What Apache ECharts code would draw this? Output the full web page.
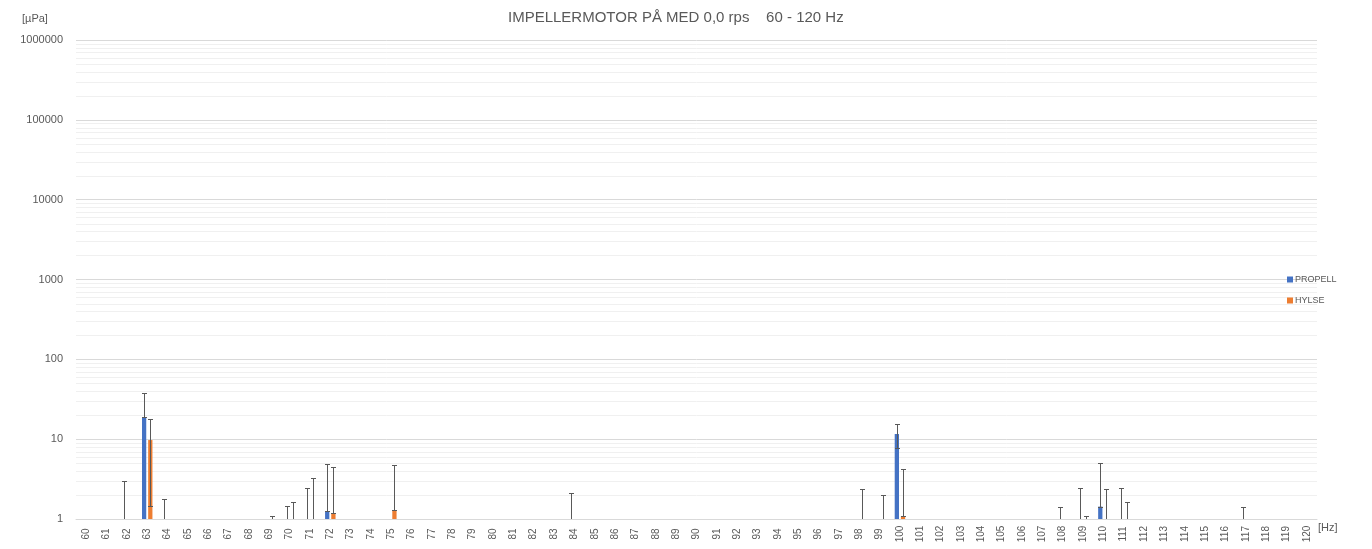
<!DOCTYPE html>
<html>
<head>
<meta charset="utf-8">
<script src="https://cdn.jsdelivr.net/npm/echarts@6/dist/echarts.min.js"></script>
<style>
html,body{margin:0;padding:0;background:#fff;}
#chart{width:1372px;height:549px;}
</style>
</head>
<body>
<div id="chart"></div>
<script>
// Categories (Hz)
var categories = ['60','61','62','63','64','65','66','67','68','69','70','71','72','73','74','75','76','77','78','79','80','81','82','83','84','85','86','87','88','89','90','91','92','93','94','95','96','97','98','99','100','101','102','103','104','105','106','107','108','109','110','111','112','113','114','115','116','117','118','119','120'];

// PROPELL (blue) bar values [µPa], 0 = below axis minimum
var propellValues = [0,0,0,18.7,0,0,0,0,0,0, 0,0,1.26,0,0,0,0,0,0,0, 0,0,0,0,0,0,0,0,0,0, 0,0,0,0,0,0,0,0,0,0, 11.6,0,0,0,0,0,0,0,0,0, 1.43,0,0,0,0,0,0,0,0,0, 0];
var propellErrPlus = [0,0,3.0,19.3,1.8,0,0,0,0,0, 1.44,2.42,3.57,0,0,0,0,0,0,0, 0,0,0,0,2.1,0,0,0,0,0, 0,0,0,0,0,0,0,0,0,0, 3.8,0,0,0,0,0,0,0,1.43,2.42, 3.67,2.42,0,0,0,0,0,1.43,0,0, 0];
var propellErrMinus = [0,0,0,0,0,0,0,0,0,0, 0,0,0,0,0,0,0,0,0,0, 0,0,0,0,0,0,0,0,0,0, 0,0,0,0,0,0,0,0,0,0, 3.8,0,0,0,0,0,0,0,0,0, 0,0,0,0,0,0,0,0,0,0, 0];

// HYLSE (orange) bar values [µPa]
var hylseValues = [0,0,0,9.75,0,0,0,0,0,0, 0,0,1.19,0,0,1.28,0,0,0,0, 0,0,0,0,0,0,0,0,0,0, 0,0,0,0,0,0,0,0,0,0, 1.08,0,0,0,0,0,0,0,0,0, 0,0,0,0,0,0,0,0,0,0, 0];
var hylseErrPlus = [0,0,0,8.3,0,0,0,0,0,1.1, 1.62,3.28,3.24,0,0,3.41,0,0,0,0, 0,0,0,0,0,0,0,0,0,0, 0,0,0,0,0,0,0,0,2.35,2.01, 3.1,0,0,0,0,0,0,0,0,1.09, 2.35,1.62,0,0,0,0,0,0,0,0, 0];
var hylseErrMinus = [0,0,0,8.3,0,0,0,0,0,0, 0,0,0,0,0,0,0,0,0,0, 0,0,0,0,0,0,0,0,0,0, 0,0,0,0,0,0,0,0,0,0, 0,0,0,0,0,0,0,0,0,0, 0,0,0,0,0,0,0,0,0,0, 0];

// Y axis range and minor gridline factors
var yMin = 1, yMax = 1000000;
var minorFactors = [2,3,4,5,6,7,8,9];

var BLUE = '#4472C4', ORANGE = '#ED7D31', TXT = '#595959';
var BAR_W = 0.21, BAR_GAP = 0.45;

var minorLines = [];
for (var d = yMin; d < yMax; d *= 10) {
  minorFactors.forEach(function (f) { minorLines.push([0, f * d]); });
}

function barData(vals) { return vals.map(function (v) { return v >= yMin ? v : '-'; }); }

function errSeries(name, vals, plus, minus, side) {
  return {
    name: name + ' err',
    type: 'custom',
    z: 5,
    silent: true,
    data: vals.map(function (v, i) { return [i, v, plus[i], minus[i]]; }),
    renderItem: function (params, api) {
      var i = api.value(0), v = api.value(1), p = api.value(2), m = api.value(3);
      if (!p) return;
      var band = api.size([1, 1])[0];
      var bw = band * BAR_W, gap = bw * BAR_GAP;
      var off = side * (bw + gap) / 2;
      var cs = params.coordSys;
      var bottom = cs.y + cs.height;
      var top = api.coord([i, v + p]);
      var x = Math.round(top[0] + off) + 0.5;
      var yTop = Math.round(top[1]) + 0.5;
      var children = [];
      var yBot, lowCap = false;
      if (v >= yMin) {
        var lo = v - m;
        if (lo >= yMin) { yBot = Math.round(api.coord([i, lo])[1]) + 0.5; lowCap = true; }
        else { yBot = bottom; }
      } else {
        yBot = bottom;
      }
      var st = { stroke: '#595959', lineWidth: 1 };
      children.push({ type: 'line', shape: { x1: x, y1: yTop, x2: x, y2: yBot }, style: st });
      children.push({ type: 'line', shape: { x1: x - 2.5, y1: yTop, x2: x + 2.5, y2: yTop }, style: st });
      if (lowCap) children.push({ type: 'line', shape: { x1: x - 2.5, y1: yBot, x2: x + 2.5, y2: yBot }, style: st });
      return { type: 'group', children: children };
    }
  };
}

var chart = echarts.init(document.getElementById('chart'), null, { renderer: 'canvas' });
chart.setOption({
  animation: false,
  backgroundColor: '#fff',
  textStyle: { fontFamily: 'Liberation Sans' },
  title: {
    text: 'IMPELLERMOTOR PÅ MED 0,0 rps    60 - 120 Hz',
    left: 503, top: 5,
    textStyle: { fontSize: 15, fontWeight: 'normal', color: TXT, fontFamily: 'Liberation Sans' }
  },
  legend: {
    data: ['PROPELL', 'HYLSE'],
    orient: 'vertical',
    left: 1282, top: 270,
    itemWidth: 6, itemHeight: 6, itemGap: 12,
    icon: 'rect',
    textStyle: { fontSize: 9, color: TXT, padding: [0, 0, 0, -3] }
  },
  grid: { left: 76, right: 55, top: 40, bottom: 30, containLabel: false },
  xAxis: {
    type: 'category',
    data: categories,
    axisTick: { show: false },
    axisLine: { lineStyle: { color: '#d9d9d9' } },
    axisLabel: { interval: 0, rotate: 90, align: 'center', verticalAlign: 'middle', margin: 15, fontSize: 10, color: TXT }
  },
  yAxis: {
    type: 'log',
    logBase: 10,
    min: yMin, max: yMax,
    interval: 1,
    axisLine: { show: false },
    axisTick: { show: false },
    splitLine: { lineStyle: { color: '#d9d9d9' } },
    axisLabel: { fontSize: 11, color: TXT, margin: 13, formatter: function (v) { return String(Math.round(v)); } }
  },
  graphic: [
    { type: 'text', left: 22, top: 13, style: { text: '[µPa]', fontSize: 11, fill: TXT, fontFamily: 'Liberation Sans' } },
    { type: 'text', left: 1318, top: 522, style: { text: '[Hz]', fontSize: 11, fill: TXT, fontFamily: 'Liberation Sans' } }
  ],
  series: [
    {
      name: 'minor grid', type: 'custom', z: 0, silent: true,
      data: minorLines,
      renderItem: function (params, api) {
        var cs = params.coordSys;
        var y = Math.round(api.coord([0, api.value(1)])[1]) + 0.5;
        return { type: 'line', shape: { x1: cs.x, y1: y, x2: cs.x + cs.width, y2: y }, style: { stroke: '#f0f0f0', lineWidth: 1 } };
      }
    },
    { name: 'PROPELL', type: 'bar', data: barData(propellValues), barWidth: (BAR_W * 100) + '%', barGap: (BAR_GAP * 100) + '%', itemStyle: { color: BLUE }, z: 2 },
    { name: 'HYLSE', type: 'bar', data: barData(hylseValues), barWidth: (BAR_W * 100) + '%', barGap: (BAR_GAP * 100) + '%', itemStyle: { color: ORANGE }, z: 2 },
    errSeries('PROPELL', propellValues, propellErrPlus, propellErrMinus, -1),
    errSeries('HYLSE', hylseValues, hylseErrPlus, hylseErrMinus, 1)
  ]
});
</script>
</body>
</html>
